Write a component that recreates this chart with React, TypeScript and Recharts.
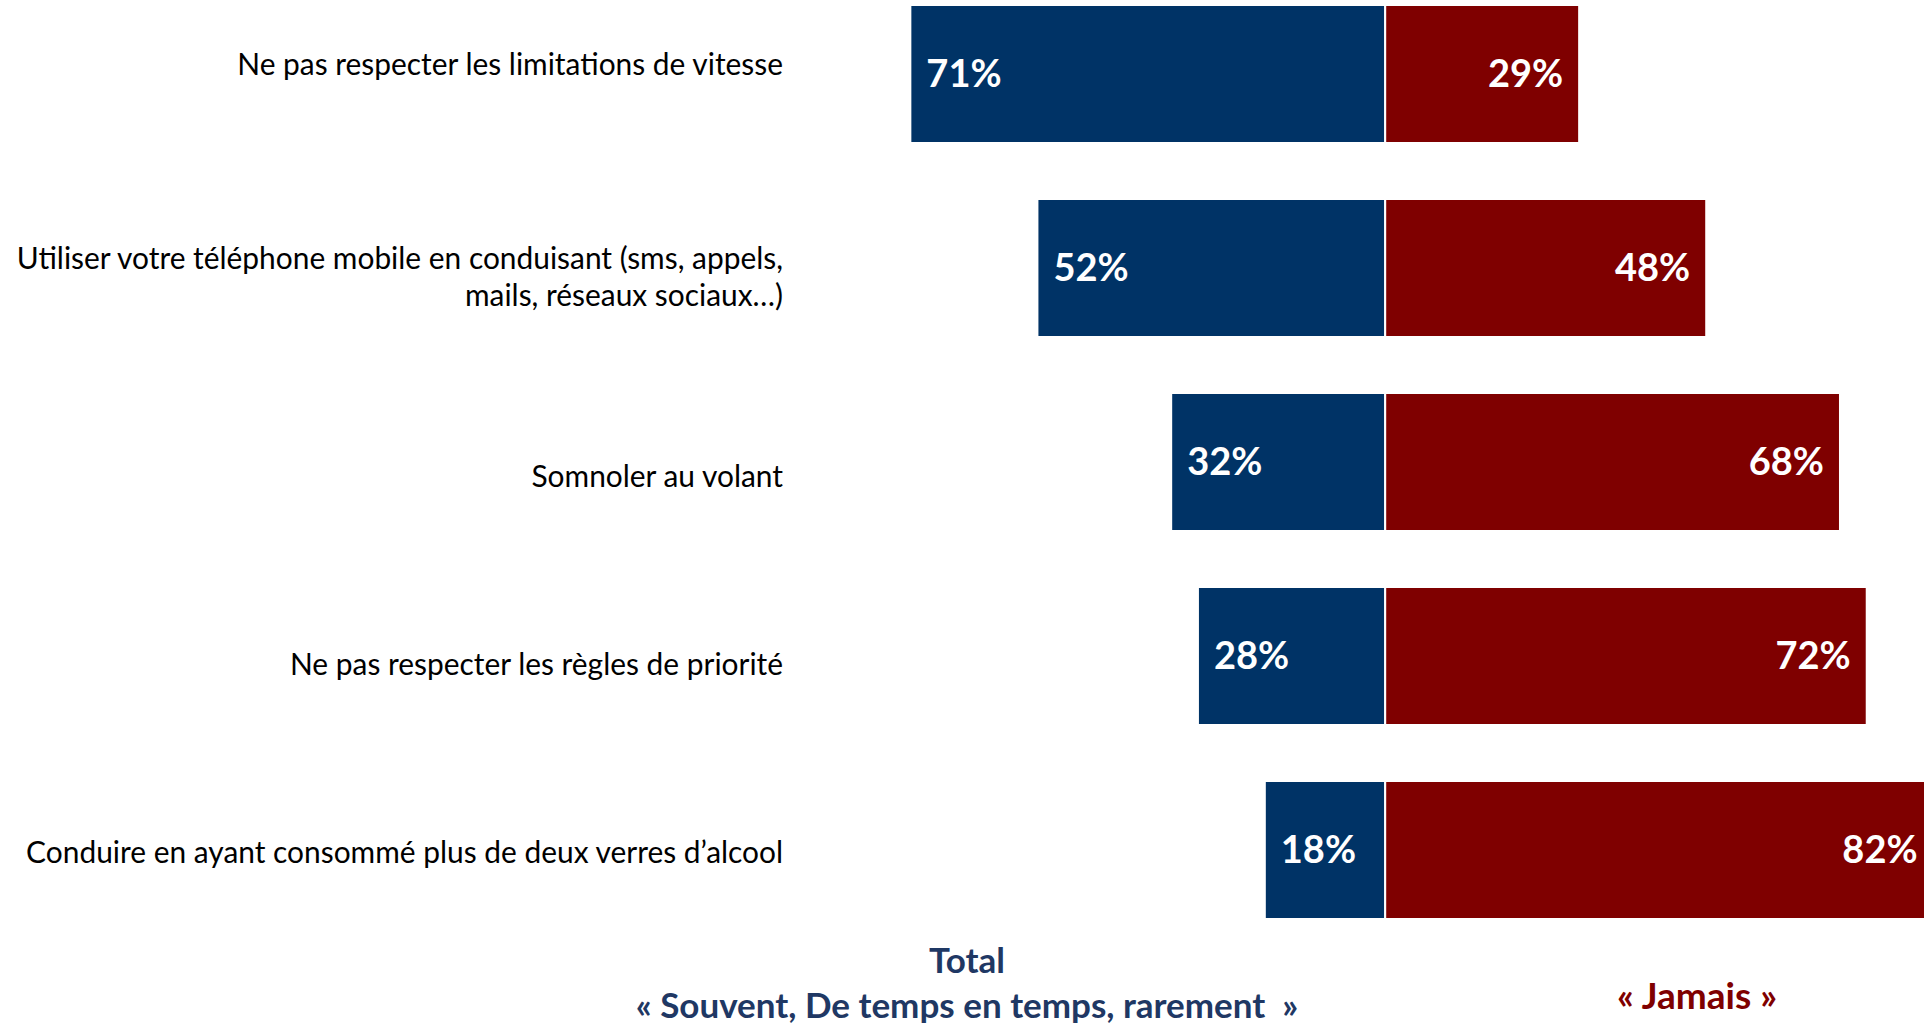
import React from 'react'
import { BarChart, Bar, XAxis, YAxis, LabelList } from 'recharts'

const categories = [
  'Ne pas respecter les limitations de vitesse',
  'Utiliser votre téléphone mobile en conduisant (sms, appels, mails, réseaux sociaux…)',
  'Somnoler au volant',
  'Ne pas respecter les règles de priorité',
  'Conduire en ayant consommé plus de deux verres d’alcool',
]
const souvent = [71, 52, 32, 28, 18]
const jamais = [29, 48, 68, 72, 82]

// small vertical nudges of the category labels, as laid out on the slide
const labelNudge = [-9, 9, 15, 9, 3]

const BLUE = '#003366'
const RED = '#7f0000'
const TEXT_FONT = 'Lato, sans-serif'

const data = categories.map((name, i) => ({
  name,
  souvent: -souvent[i],
  jamais: jamais[i],
}))

function wrap(label: string, max = 60) {
  const lines: string[] = []
  let cur = ''
  for (const w of label.split(' ')) {
    const next = cur ? cur + ' ' + w : w
    if (next.length > max && cur) {
      lines.push(cur)
      cur = w
    } else cur = next
  }
  if (cur) lines.push(cur)
  return lines
}

function CategoryTick(props: any) {
  const { x, y, payload, index } = props
  const lines = wrap(payload.value)
  const lh = 37
  const start = y + (labelNudge[index] ?? 0) - ((lines.length - 1) * lh) / 2
  return (
    <text x={x} textAnchor="end" fontFamily={TEXT_FONT} fontSize={29.9} fill="#000">
      {lines.map((l, i) => (
        <tspan key={i} x={x} y={start + i * lh} dy="0.35em">
          {l}
        </tspan>
      ))}
    </text>
  )
}

const valueLabel = (side: 'left' | 'right') => (props: any) => {
  const { x, y, width, height, value } = props
  const left = Math.min(x, x + width)
  const w = Math.abs(width)
  const tx = side === 'left' ? left + 16 : left + w - 16
  return (
    <text
      x={tx}
      y={y + height / 2}
      dy="0.35em"
      textAnchor={side === 'left' ? 'start' : 'end'}
      fill="#fff"
      fontFamily={TEXT_FONT}
      fontWeight="bold"
      fontSize={38}
    >
      {Math.abs(value)}%
    </text>
  )
}

export default function App() {
  return (
    <div
      style={{
        position: 'fixed',
        left: 0,
        top: 0,
        width: 1924,
        height: 1023,
        overflow: 'hidden',
        background: '#fff',
        fontFamily: TEXT_FONT,
      }}
    >
      <div style={{ position: 'absolute', left: 0, top: -23 }}>
        <BarChart
          width={2054}
          height={970}
          data={data}
          layout="vertical"
          stackOffset="sign"
          barSize={138}
          margin={{ top: 0, right: 0, bottom: 0, left: 0 }}
        >
          <XAxis type="number" hide domain={[-87.5, 100]} allowDataOverflow />
          <YAxis
            type="category"
            dataKey="name"
            width={800}
            axisLine={false}
            tickLine={false}
            tickSize={0}
            tickMargin={17}
            interval={0}
            tick={<CategoryTick />}
          />
          <Bar dataKey="souvent" stackId="a" fill={BLUE} stroke="#fff" strokeWidth={2} isAnimationActive={false}>
            <LabelList dataKey="souvent" content={valueLabel('left')} />
          </Bar>
          <Bar dataKey="jamais" stackId="a" fill={RED} stroke="#fff" strokeWidth={2} isAnimationActive={false}>
            <LabelList dataKey="jamais" content={valueLabel('right')} />
          </Bar>
        </BarChart>
      </div>
      <div
        style={{
          position: 'absolute',
          left: 567,
          width: 800,
          top: 937,
          textAlign: 'center',
          color: '#1f3864',
          fontWeight: 'bold',
          fontSize: 35,
          lineHeight: '45px',
        }}
      >
        <div>Total</div>
        <div>« Souvent, De temps en temps, rarement&nbsp; »</div>
      </div>
      <div
        style={{
          position: 'absolute',
          left: 1497,
          width: 400,
          top: 972,
          textAlign: 'center',
          color: '#7f0000',
          fontWeight: 'bold',
          fontSize: 37,
          lineHeight: '45px',
        }}
      >
        « Jamais »
      </div>
    </div>
  )
}
